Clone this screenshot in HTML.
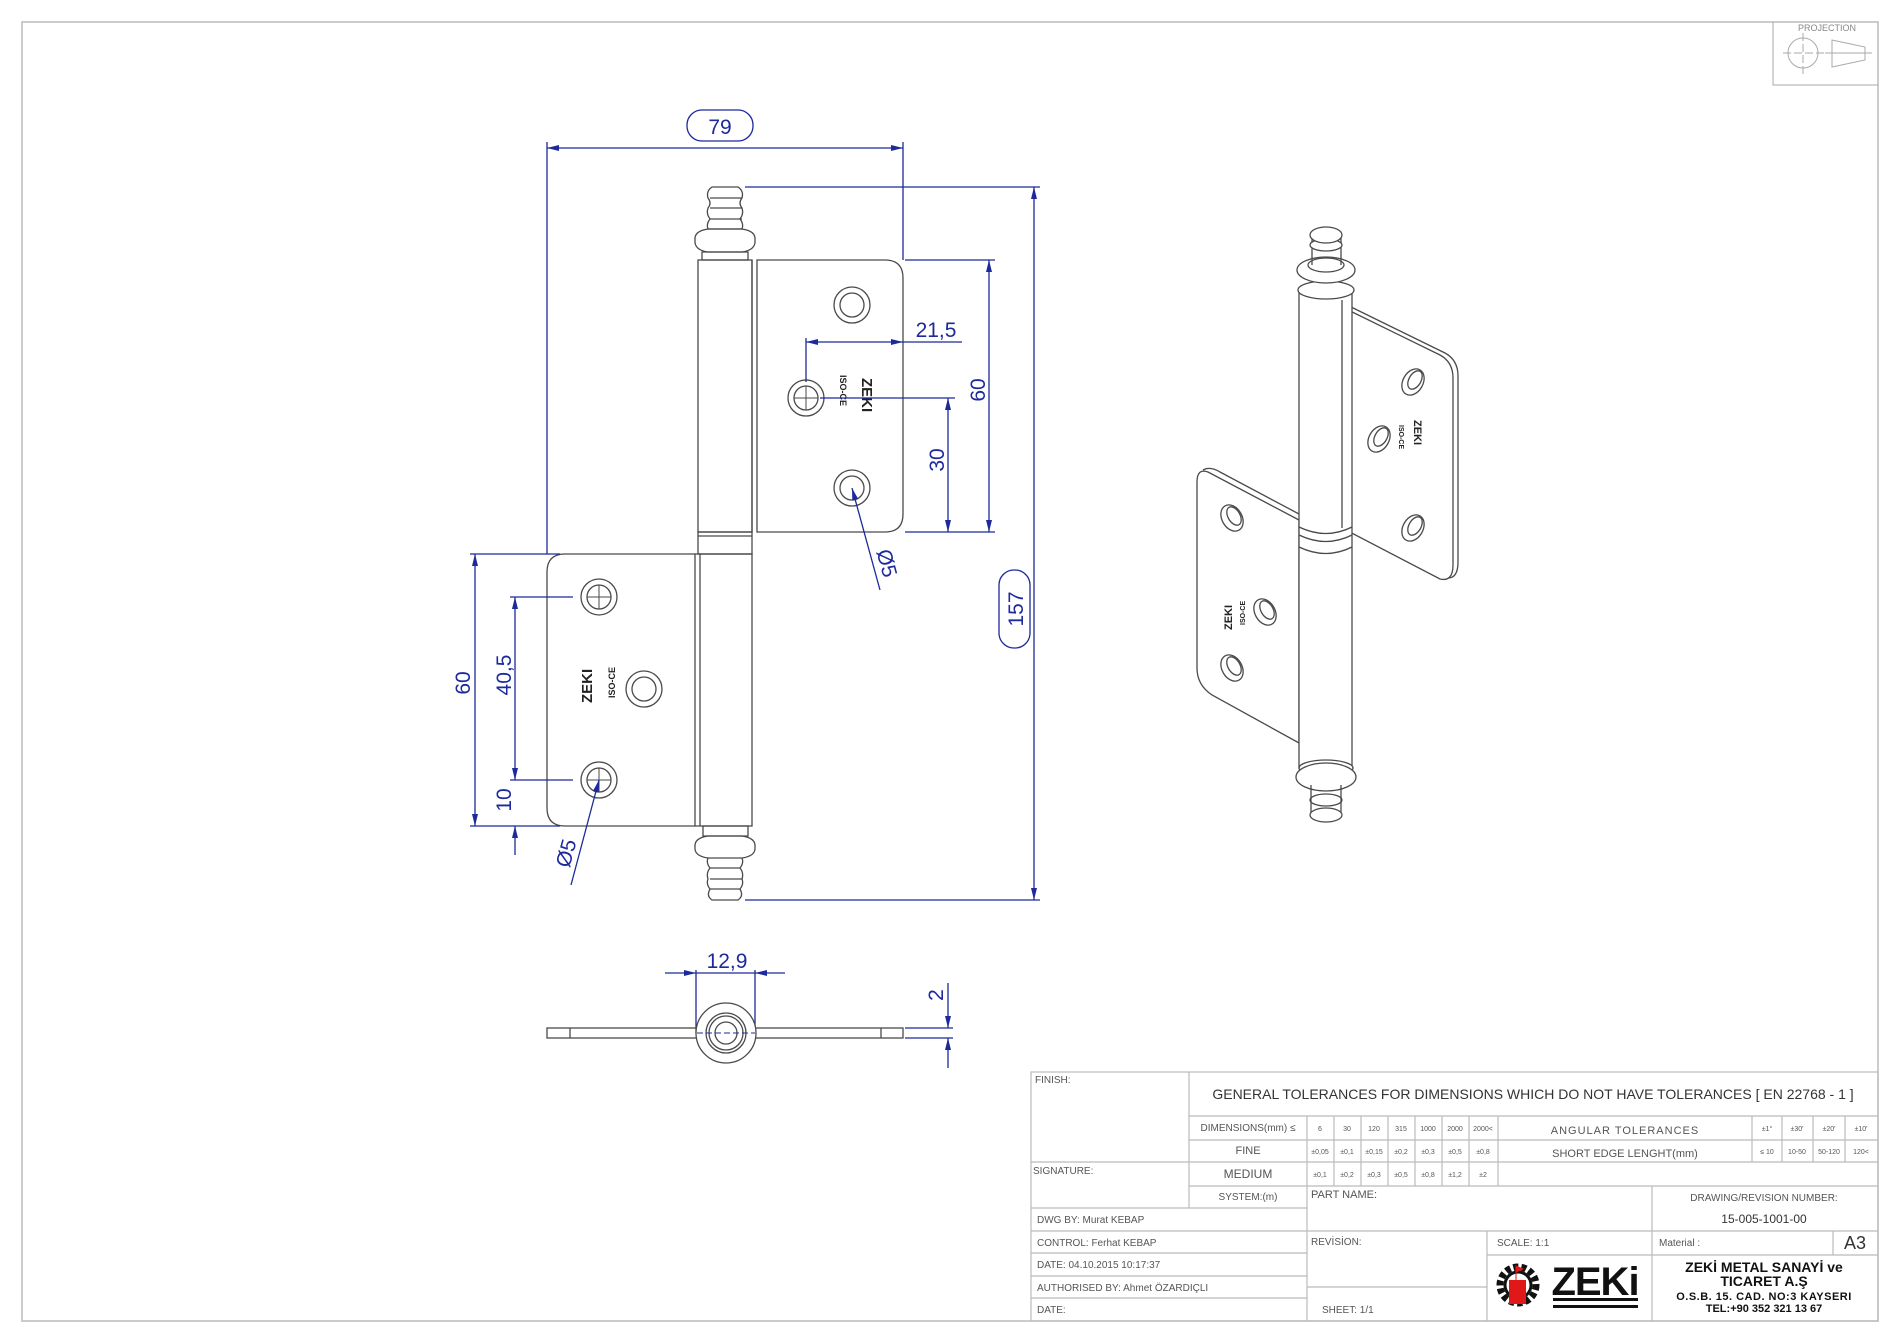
<!DOCTYPE html>
<html><head><meta charset="utf-8"><style>
html,body{margin:0;padding:0;background:#fff;}
svg{display:block;}
text{font-family:"Liberation Sans",sans-serif;}
</style></head><body>
<svg width="1900" height="1343" viewBox="0 0 1900 1343" xmlns="http://www.w3.org/2000/svg">
<defs>
<marker id="a" viewBox="0 0 12 6" refX="12" refY="3" markerWidth="12" markerHeight="6" markerUnits="userSpaceOnUse" orient="auto-start-reverse"><path d="M0,0 L12,3 L0,6 z" fill="#1c2a9c"/></marker>
</defs>
<!-- frame -->
<rect x="22" y="22" width="1856" height="1299" fill="none" stroke="#bbb" stroke-width="1.5"/>
<!-- projection box -->
<g stroke="#aaa" fill="none" stroke-width="1">
<path d="M1773,22 V85 H1878"/>
<circle cx="1803" cy="53" r="15"/>
<path d="M1783,53 H1827 M1803,33 V75" stroke-dasharray="8,3"/>
<path d="M1832,40 L1865,47 V60 L1832,67 Z M1825,53 H1872"/>
</g>
<text x="1827" y="31" font-size="9" fill="#888" text-anchor="middle">PROJECTION</text>

<!-- ===== FRONT VIEW ===== -->
<g stroke="#4a4a4a" stroke-width="1.3" fill="none">
<!-- top pin -->
<path d="M712,187 H738 Q744,191 742,198 Q738,203 742,208 Q744,214 740,219 Q744,224 742,229 H708 Q706,224 710,219 Q706,214 708,208 Q712,203 708,198 Q706,191 712,187 Z"/>
<path d="M710,198 H742 M710,208 H742 M710,219 H742"/>
<path d="M708,229 H742 Q756,231 755,240 Q756,250 742,252 H708 Q694,250 695,240 Q694,231 708,229 Z"/>
<path d="M702,252 H748 V260 H702 Z"/>
<!-- upper barrel -->
<rect x="698" y="260" width="54" height="272"/>
<!-- upper leaf -->
<path d="M757,260 H885 Q903,260 903,278 V514 Q903,532 885,532 H757 Z"/>
<path d="M752,260 V532"/>
<!-- ring -->
<rect x="698" y="532" width="54" height="22"/>
<path d="M698,536 H752"/>
<!-- lower barrel -->
<rect x="700" y="554" width="52" height="272"/>
<path d="M695,554 H700 M695,826 H700"/>
<!-- lower leaf -->
<path d="M695,554 H565 Q547,554 547,572 V808 Q547,826 565,826 H695 Z"/>
<!-- bottom pin -->
<path d="M703,826 H748 V836 H703 Z"/>
<path d="M708,836 H742 Q756,838 755,847 Q756,856 742,858 H708 Q694,856 695,847 Q694,838 708,836 Z"/>
<path d="M708,858 Q706,863 710,868 Q706,873 708,879 Q706,884 710,889 Q706,896 712,900 H738 Q744,896 740,889 Q744,884 742,879 Q744,873 740,868 Q744,863 742,858"/>
<path d="M710,868 H740 M710,879 H742 M710,889 H740"/>
<!-- holes upper leaf -->
<circle cx="852" cy="305" r="18"/><circle cx="852" cy="305" r="12"/>
<circle cx="806" cy="398" r="18"/><circle cx="806" cy="398" r="12"/>
<circle cx="852" cy="488" r="18"/><circle cx="852" cy="488" r="12"/>
<path d="M794,398 H818 M806,386 V410" stroke-width="1"/>
<!-- holes lower leaf -->
<circle cx="599" cy="597" r="18"/><circle cx="599" cy="597" r="12"/>
<path d="M587,597 H611 M599,585 V609" stroke-width="1"/>
<circle cx="644" cy="689" r="18"/><circle cx="644" cy="689" r="12"/>
<circle cx="599" cy="780" r="18"/><circle cx="599" cy="780" r="12"/>
<path d="M587,780 H611 M599,768 V792" stroke-width="1"/>
</g>
<g fill="#222" font-weight="bold">
<text transform="translate(862,378) rotate(90)" font-size="15" font-family="Liberation Serif,serif">ZEKI</text>
<text transform="translate(840,375) rotate(90)" font-size="9">ISO-CE</text>
<text transform="translate(592,703) rotate(-90)" font-size="15" font-family="Liberation Serif,serif">ZEKI</text>
<text transform="translate(615,698) rotate(-90)" font-size="9">ISO-CE</text>
</g>

<!-- ===== DIMENSIONS ===== -->
<g stroke="#1c2a9c" stroke-width="1.3" fill="none">
<!-- 79 -->
<path d="M547,142 V554 M903,142 V260"/>
<path d="M547,148 H903" marker-start="url(#a)" marker-end="url(#a)"/>
<rect x="687" y="110" width="66" height="31" rx="15"/>
<!-- 157 -->
<path d="M745,187 H1040 M745,900 H1040"/>
<path d="M1034,187 V900" marker-start="url(#a)" marker-end="url(#a)"/>
<rect x="999" y="570" width="31" height="78" rx="15" fill="#fff"/>
<!-- 60 upper -->
<path d="M905,260 H995 M905,532 H995"/>
<path d="M989,260 V532" marker-start="url(#a)" marker-end="url(#a)"/>
<!-- 30 -->
<path d="M820,398 H955"/>
<path d="M948,398 V532" marker-start="url(#a)" marker-end="url(#a)"/>
<!-- 21,5 -->
<path d="M806,338 V382"/>
<path d="M806,342 H903" marker-start="url(#a)" marker-end="url(#a)"/>
<path d="M903,342 H962"/>
<!-- Ø5 upper -->
<path d="M880,590 L852,488" marker-end="url(#a)"/>
<!-- 60 lower -->
<path d="M470,554 H560 M470,826 H560"/>
<path d="M475,554 V826" marker-start="url(#a)" marker-end="url(#a)"/>
<!-- 40,5 -->
<path d="M510,597 H573 M510,780 H573"/>
<path d="M515,597 V780" marker-start="url(#a)" marker-end="url(#a)"/>
<path d="M515,855 V826" marker-end="url(#a)"/>
<!-- Ø5 lower -->
<path d="M571,885 L599,780" marker-end="url(#a)"/>
<!-- 12,9 -->
<path d="M696,970 V1033 M755,970 V1033"/>
<path d="M665,973 H696" marker-end="url(#a)"/>
<path d="M785,973 H755" marker-end="url(#a)"/>
<path d="M696,973 H755"/>
<!-- 2 -->
<path d="M905,1028 H953 M905,1038 H953"/>
<path d="M948,983 V1028" marker-end="url(#a)"/>
<path d="M948,1068 V1038" marker-end="url(#a)"/>
</g>
<g fill="#1c2a9c" font-size="21">
<text x="720" y="134" text-anchor="middle">79</text>
<text transform="translate(1023,609) rotate(-90)" text-anchor="middle">157</text>
<text transform="translate(985,390) rotate(-90)" text-anchor="middle">60</text>
<text transform="translate(944,460) rotate(-90)" text-anchor="middle">30</text>
<text x="936" y="337" text-anchor="middle">21,5</text>
<text transform="translate(880,565) rotate(75)" text-anchor="middle">Ø5</text>
<text transform="translate(470,683) rotate(-90)" text-anchor="middle">60</text>
<text transform="translate(511,675) rotate(-90)" text-anchor="middle">40,5</text>
<text transform="translate(511,800) rotate(-90)" text-anchor="middle">10</text>
<text transform="translate(573,855) rotate(-75)" text-anchor="middle">Ø5</text>
<text x="727" y="968" text-anchor="middle">12,9</text>
<text transform="translate(943,995) rotate(-90)" text-anchor="middle">2</text>
</g>

<!-- side view -->
<g stroke="#4a4a4a" stroke-width="1.3" fill="none">
<rect x="547" y="1028" width="356" height="10"/>
<path d="M570,1028 V1038 M881,1028 V1038"/>
<circle cx="726" cy="1033" r="30" fill="#fff"/>
<circle cx="726" cy="1033" r="20"/><circle cx="726" cy="1033" r="17"/><circle cx="726" cy="1033" r="11"/>
<path d="M697,1033 H755" stroke="#1c2a9c" stroke-dasharray="6,3" stroke-width="1"/>
</g>

<!-- ===== ISO VIEW ===== -->
<g stroke="#4a4a4a" stroke-width="1.3" fill="#fff">
<!-- upper right leaf -->
<path d="M1342,307 L1440,355 Q1453,362 1453,378 V565 Q1453,582 1440,579 L1342,528 Z"/>
<path d="M1347,305 L1445,353 Q1458,360 1458,376 V562 Q1458,578 1448,578" fill="none"/>
<!-- lower left leaf -->
<path d="M1299,520 L1208,472 Q1197,468 1197,482 V668 Q1197,685 1212,695 L1299,743 Z"/>
<path d="M1203,470 Q1210,466 1220,472 L1299,514" fill="none"/>
<!-- barrel -->
<rect x="1299" y="290" width="53" height="478"/>
<path d="M1342,300 V528" fill="none"/>
<path d="M1299,527 Q1326,540 1352,527 M1299,535 Q1326,548 1352,535 M1299,547 Q1326,560 1352,547" fill="none"/>
<!-- top collar and pin -->
<ellipse cx="1326" cy="290" rx="28" ry="9"/>
<ellipse cx="1326" cy="270" rx="29" ry="13"/>
<ellipse cx="1326" cy="265" rx="18" ry="7"/>
<path d="M1312,265 V235 M1341,265 V235" fill="none"/>
<ellipse cx="1326" cy="245" rx="16" ry="6"/>
<ellipse cx="1326" cy="235" rx="16" ry="8"/>
<!-- bottom collar and pin -->
<ellipse cx="1326" cy="768" rx="27" ry="8"/>
<ellipse cx="1326" cy="777" rx="30" ry="14"/>
<path d="M1311,785 V815 M1341,785 V815" fill="none"/>
<ellipse cx="1326" cy="800" rx="16" ry="6" fill="none"/>
<ellipse cx="1326" cy="815" rx="16" ry="7"/>
<!-- holes -->
<g fill="none">
<ellipse cx="1413" cy="382" rx="10" ry="14" transform="rotate(30 1413 382)"/><ellipse cx="1415" cy="380" rx="6" ry="10" transform="rotate(30 1415 380)"/>
<ellipse cx="1379" cy="439" rx="10" ry="14" transform="rotate(30 1379 439)"/><ellipse cx="1381" cy="437" rx="6" ry="10" transform="rotate(30 1381 437)"/>
<ellipse cx="1413" cy="528" rx="10" ry="14" transform="rotate(30 1413 528)"/><ellipse cx="1415" cy="526" rx="6" ry="10" transform="rotate(30 1415 526)"/>
<ellipse cx="1232" cy="518" rx="10" ry="14" transform="rotate(-30 1232 518)"/><ellipse cx="1234" cy="516" rx="6" ry="10" transform="rotate(-30 1234 516)"/>
<ellipse cx="1265" cy="612" rx="10" ry="14" transform="rotate(-30 1265 612)"/><ellipse cx="1267" cy="610" rx="6" ry="10" transform="rotate(-30 1267 610)"/>
<ellipse cx="1232" cy="668" rx="10" ry="14" transform="rotate(-30 1232 668)"/><ellipse cx="1234" cy="666" rx="6" ry="10" transform="rotate(-30 1234 666)"/>
</g>
</g>
<g fill="#222" font-weight="bold">
<text transform="translate(1414,420) rotate(90)" font-size="11" font-family="Liberation Serif,serif">ZEKI</text>
<text transform="translate(1399,425) rotate(90)" font-size="7">ISO-CE</text>
<text transform="translate(1232,630) rotate(-90)" font-size="11" font-family="Liberation Serif,serif">ZEKI</text>
<text transform="translate(1245,625) rotate(-90)" font-size="7">ISO-CE</text>
</g>

<!-- ===== TITLE BLOCK ===== -->
<g stroke="#bbb" stroke-width="1.2" fill="none">
<rect x="1031" y="1072" width="847" height="249"/>
<path d="M1189,1072 V1208"/>
<path d="M1189,1116 H1878 M1189,1140 H1878 M1031,1162 H1878 M1189,1186 H1878 M1031,1208 H1307"/>
<path d="M1031,1231 H1307 M1031,1253 H1307 M1031,1276 H1307 M1031,1298 H1307"/>
<path d="M1307,1116 V1321"/>
<path d="M1334,1116 V1186 M1361,1116 V1186 M1388,1116 V1186 M1415,1116 V1186 M1442,1116 V1186 M1469,1116 V1186 M1498,1116 V1186"/>
<path d="M1752,1116 V1162 M1782,1116 V1162 M1813,1116 V1162 M1845,1116 V1162"/>
<path d="M1652,1186 V1321 M1307,1231 H1878 M1487,1231 V1321 M1487,1255 H1878 M1307,1287 H1487 M1833,1231 V1255"/>
</g>
<g fill="#555" font-size="10">
<text x="1035" y="1083">FINISH:</text>
<text x="1033" y="1174">SIGNATURE:</text>
<text x="1037" y="1223">DWG BY:   Murat KEBAP</text>
<text x="1037" y="1246">CONTROL:  Ferhat KEBAP</text>
<text x="1037" y="1268">DATE: 04.10.2015 10:17:37</text>
<text x="1037" y="1291">AUTHORISED BY: Ahmet ÖZARDIÇLI</text>
<text x="1037" y="1313">DATE:</text>
<text x="1248" y="1131" text-anchor="middle">DIMENSIONS(mm) ≤</text>
<text x="1248" y="1154" text-anchor="middle" font-size="11">FINE</text>
<text x="1248" y="1178" text-anchor="middle" font-size="12">MEDIUM</text>
<text x="1248" y="1200" text-anchor="middle">SYSTEM:(m)</text>
<text x="1311" y="1198" font-size="11">PART NAME:</text>
<text x="1311" y="1245">REVİSİON:</text>
<text x="1322" y="1313">SHEET: 1/1</text>
<text x="1497" y="1246">SCALE: 1:1</text>
<text x="1659" y="1246">Material :</text>
<text x="1764" y="1201" text-anchor="middle">DRAWING/REVISION NUMBER:</text>
<text x="1764" y="1223" text-anchor="middle" font-size="12" fill="#333">15-005-1001-00</text>
<text x="1855" y="1249" text-anchor="middle" font-size="18" fill="#333">A3</text>
<text x="1533" y="1099" text-anchor="middle" font-size="14" fill="#333">GENERAL TOLERANCES FOR DIMENSIONS WHICH DO NOT HAVE TOLERANCES [ EN 22768 - 1 ]</text>
<text x="1625" y="1134" text-anchor="middle" font-size="11" letter-spacing="1">ANGULAR  TOLERANCES</text>
<text x="1625" y="1157" text-anchor="middle" font-size="11">SHORT EDGE LENGHT(mm)</text>
</g>
<g fill="#555" font-size="7" text-anchor="middle">
<text x="1320" y="1131">6</text><text x="1347" y="1131">30</text><text x="1374" y="1131">120</text><text x="1401" y="1131">315</text><text x="1428" y="1131">1000</text><text x="1455" y="1131">2000</text><text x="1483" y="1131">2000&lt;</text>
<text x="1320" y="1154">±0,05</text><text x="1347" y="1154">±0,1</text><text x="1374" y="1154">±0,15</text><text x="1401" y="1154">±0,2</text><text x="1428" y="1154">±0,3</text><text x="1455" y="1154">±0,5</text><text x="1483" y="1154">±0,8</text>
<text x="1320" y="1177">±0,1</text><text x="1347" y="1177">±0,2</text><text x="1374" y="1177">±0,3</text><text x="1401" y="1177">±0,5</text><text x="1428" y="1177">±0,8</text><text x="1455" y="1177">±1,2</text><text x="1483" y="1177">±2</text>
<text x="1767" y="1131">±1°</text><text x="1797" y="1131">±30'</text><text x="1829" y="1131">±20'</text><text x="1861" y="1131">±10'</text>
<text x="1767" y="1154">≤ 10</text><text x="1797" y="1154">10-50</text><text x="1829" y="1154">50-120</text><text x="1861" y="1154">120&lt;</text>
</g>
<!-- logo -->
<g>
<circle cx="1518" cy="1285" r="18" fill="none" stroke="#111" stroke-width="7" stroke-dasharray="5,3"/>
<circle cx="1518" cy="1285" r="13" fill="none" stroke="#111" stroke-width="3"/>
<rect x="1509" y="1280" width="17" height="24" fill="#e01818"/>
<path d="M1516,1280 V1266 L1523,1269 L1516,1272" fill="#e01818" stroke="#e01818"/>
<text x="1595" y="1295" text-anchor="middle" font-size="40" font-weight="bold" fill="#111" letter-spacing="-1">ZEKi</text>
<rect x="1553" y="1298" width="85" height="3" fill="#111"/>
<rect x="1553" y="1305" width="85" height="3" fill="#111"/>
</g>
<g fill="#111" font-weight="bold" text-anchor="middle">
<text x="1764" y="1272" font-size="14">ZEKİ METAL SANAYİ ve</text>
<text x="1764" y="1286" font-size="14">TICARET A.Ş</text>
<text x="1764" y="1300" font-size="11" letter-spacing="0.5">O.S.B. 15. CAD. NO:3   KAYSERI</text>
<text x="1764" y="1312" font-size="11">TEL:+90 352 321 13 67</text>
</g>
</svg>
</body></html>
